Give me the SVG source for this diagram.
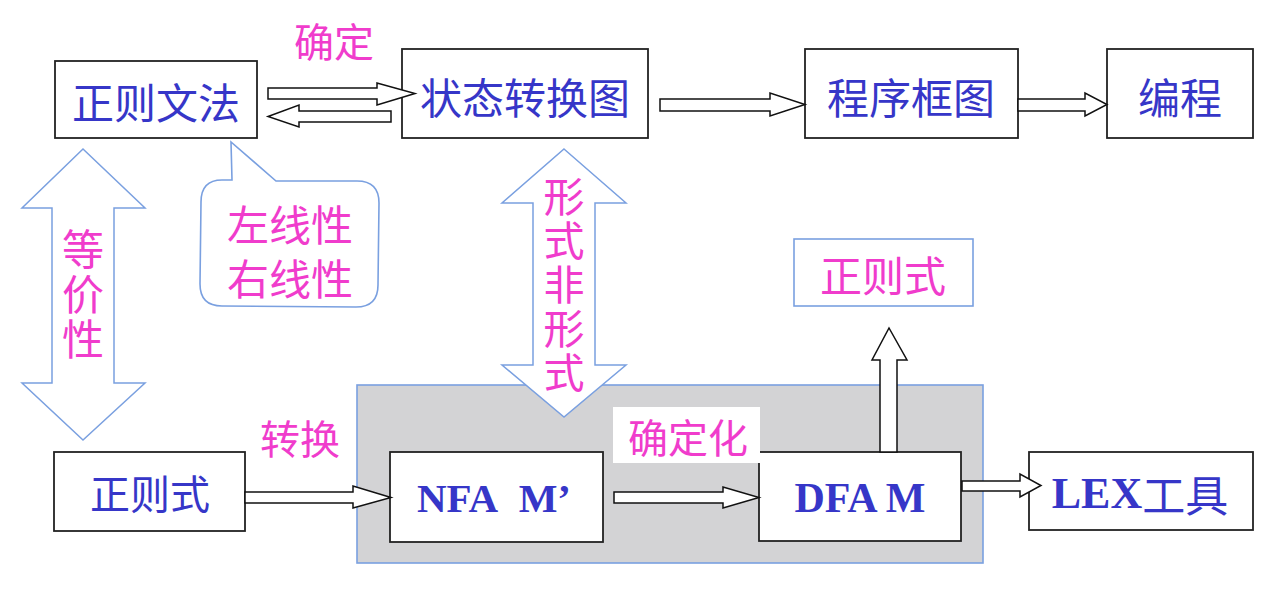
<svg xmlns="http://www.w3.org/2000/svg" width="1285" height="589" viewBox="0 0 1285 589">
<style>
.box{fill:#fff;stroke:#222;stroke-width:1.8}
.bbox{fill:#fff;stroke:#7aa0e0;stroke-width:1.6}
.arr{fill:#fff;stroke:#111;stroke-width:1.5;stroke-linejoin:miter}
.barr{fill:#fff;stroke:#7aa0e0;stroke-width:1.5}
.cn{font-family:"Noto Sans CJK SC","Noto Sans",sans-serif;text-anchor:middle;dominant-baseline:central}
.vt{font-family:"Noto Sans CJK SC","Noto Sans",sans-serif;text-anchor:middle;writing-mode:vertical-rl}
.blue{fill:#3636c8}
.pink{fill:#f03ccc}
.lat{font-family:"Liberation Serif","Noto Sans CJK SC",serif;font-weight:bold;text-anchor:middle;dominant-baseline:central;fill:#3636c8}
</style>
<rect width="1285" height="589" fill="#fff"/>
<g id="group-bg">
<rect x="357" y="385" width="626" height="178" fill="#d3d3d5" stroke="#7aa0e0" stroke-width="1.6"/>
</g>
<g id="n-zzwf"><rect class="box" x="55" y="61" width="202" height="77"/><text class="cn blue" x="156" y="100" font-size="42">正则文法</text></g>
<g id="n-ztzht"><rect class="box" x="402" y="49" width="246" height="89"/><text class="cn blue" x="525" y="95" font-size="42">状态转换图</text></g>
<g id="n-cxkt"><rect class="box" x="805" y="49" width="213" height="89"/><text class="cn blue" x="911" y="95" font-size="42">程序框图</text></g>
<g id="n-bc"><rect class="box" x="1107" y="49" width="146" height="89"/><text class="cn blue" x="1180" y="95" font-size="42">编程</text></g>
<g id="n-zzs1"><rect class="box" x="54" y="452" width="191" height="79"/><text class="cn blue" x="150" y="492" font-size="40">正则式</text></g>
<g id="n-nfa"><rect class="box" x="390" y="452" width="213" height="90"/><text class="lat" x="494" y="498" font-size="41">NFA&#160; M’</text></g>
<g id="n-dfa"><rect class="box" x="759" y="452" width="202" height="89"/><text class="lat" x="860" y="498" font-size="42">DFA M</text></g>
<g id="n-lex"><rect class="box" x="1029" y="452" width="224" height="78"/><text class="lat" x="1140" y="493" font-size="44">LEX<tspan font-family="Noto Sans CJK SC,sans-serif" font-weight="normal" font-size="43">工具</tspan></text></g>
<g id="n-zzs2"><rect class="bbox" x="794" y="239" width="179" height="67"/><text class="cn pink" x="883" y="273" font-size="42">正则式</text></g>
<g id="n-callout">
<path d="M222,180 L232,180 L231,142 L276,181 L357,181 Q379,181 379,203 L378,285 Q378,307 356,307 L222,306 Q200,306 200,284 L201,202 Q201,180 222,180 Z" fill="#fff" stroke="#7aa0e0" stroke-width="1.6"/>
<text class="cn pink" x="290" y="222" font-size="42">左线性</text>
<text class="cn pink" x="290" y="276" font-size="42">右线性</text>
</g>
<g id="connectors">
<polygon class="arr" points="268,88 377,88 377,83 415,93.5 377,105 377,99 268,99"/>
<polygon class="arr" points="391,111 299,111 299,105 268,116.5 299,127 299,122 391,122"/>
<polygon class="arr" points="660,99 770,99 770,93 805,104.5 770,116 770,111 660,111"/>
<polygon class="arr" points="1018,99 1085,99 1085,93 1107,104.5 1085,116 1085,111 1018,111"/>
<polygon class="arr" points="245,492 353,492 353,486 391,497.5 353,508 353,503 245,503"/>
<polygon class="arr" points="614,492 723,492 723,487 759,497.5 723,508 723,503 614,503"/>
<polygon class="arr" points="962,481 1020,481 1020,474 1041,485.5 1020,497 1020,491 962,491"/>
<polygon class="arr" points="880,452 880,360 872,360 889,328 907,360 897,360 897,452"/>
<polygon class="barr" points="83,149 145,208 114,208 114,383 145,383 83,440 22,383 52,383 52,208 22,208"/>
<polygon class="barr" points="564,149 626,203 595,203 595,365 626,365 564,417 502,365 533,365 533,203 502,203"/>
</g>
<g id="labels">
<text class="cn pink" x="334" y="40" font-size="40">确定</text>
<text class="cn pink" x="300" y="437" font-size="40">转换</text>
<rect x="613" y="407" width="147" height="56" fill="#fff"/>
<text class="cn pink" x="688" y="436" font-size="40">确定化</text>
<text class="vt pink" x="83" y="296" font-size="42" letter-spacing="3">等价性</text>
<text class="vt pink" x="564" y="286" font-size="41" letter-spacing="3">形式非形式</text>
</g>
</svg>
